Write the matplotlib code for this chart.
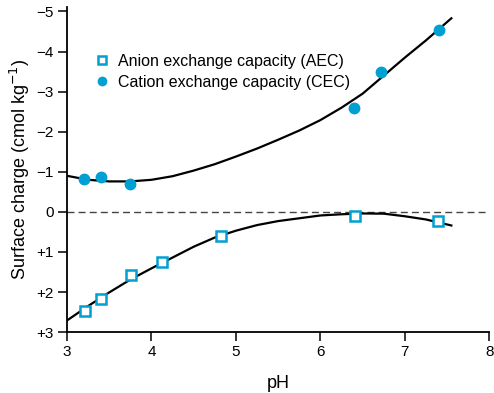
import matplotlib
matplotlib.use('Agg')
import matplotlib.pyplot as plt

plt.rcParams['font.family'] = ['Liberation Sans', 'DejaVu Sans']

BLUE = '#00a0d2'

# measured points
aec_ph = [3.21, 3.40, 3.76, 4.12, 4.82, 6.41, 7.39]
aec_charge = [2.48, 2.18, 1.58, 1.26, 0.59, 0.11, 0.24]

cec_ph = [3.20, 3.40, 3.75, 6.40, 6.72, 7.40]
cec_charge = [-0.81, -0.86, -0.69, -2.60, -3.48, -4.55]

# fitted curves
fit_ph = [3.0, 3.25, 3.5, 3.75, 4.0, 4.25, 4.5, 4.75, 5.0, 5.25,
          5.5, 5.75, 6.0, 6.25, 6.5, 6.75, 7.0, 7.25, 7.55]
aec_fit = [2.71, 2.35, 2.01, 1.69, 1.41, 1.14, 0.87, 0.64, 0.47, 0.33,
           0.23, 0.16, 0.09, 0.06, 0.04, 0.045, 0.11, 0.19, 0.34]
cec_fit = [-0.90, -0.80, -0.76, -0.76, -0.80, -0.89, -1.03, -1.19, -1.38, -1.58,
           -1.80, -2.03, -2.29, -2.60, -2.95, -3.40, -3.85, -4.28, -4.83]

y_ticks = [-5, -4, -3, -2, -1, 0, 1, 2, 3]
y_tick_labels = ['\u22125', '\u22124', '\u22123', '\u22122', '\u22121', '0', '+1', '+2', '+3']
x_ticks = [3, 4, 5, 6, 7, 8]

fig = plt.figure(figsize=(4.94, 3.93), dpi=100)
ax = fig.add_axes([0.1356, 0.155, 0.855, 0.828])

ax.axhline(0, color='#444444', lw=1.0, ls=(0, (5, 3)), zorder=1)

ax.plot(fit_ph, aec_fit, color='black', lw=1.6, zorder=2)
ax.plot(fit_ph, cec_fit, color='black', lw=1.6, zorder=2)

ax.plot(aec_ph, aec_charge, ls='none', marker='s', ms=7, mfc='white',
        mec=BLUE, mew=1.8, zorder=3, label='Anion exchange capacity (AEC)')
ax.plot(cec_ph, cec_charge, ls='none', marker='o', ms=7.5, mfc=BLUE,
        mec=BLUE, zorder=3, label='Cation exchange capacity (CEC)')

ax.set_xlim(3, 8)
ax.set_ylim(3, -5.12)
ax.set_xticks(x_ticks)
ax.set_yticks(y_ticks)
ax.set_yticklabels(y_tick_labels)

for s in ['top', 'right']:
    ax.spines[s].set_visible(False)
for s in ['left', 'bottom']:
    ax.spines[s].set_linewidth(1.3)
ax.tick_params(direction='out', length=6.5, width=1.1, labelsize=11, pad=3)

ax.set_xlabel('pH', fontsize=13, labelpad=11)
ax.set_ylabel('Surface charge (cmol kg$^{\u22121}$)', fontsize=13, labelpad=3)

leg = ax.legend(loc='upper left', bbox_to_anchor=(0.03, 0.90), frameon=False,
                fontsize=11.5, handlelength=1.0, handletextpad=0.5,
                labelspacing=0.4, markerscale=0.8)

fig.savefig('out.png', dpi=100)
